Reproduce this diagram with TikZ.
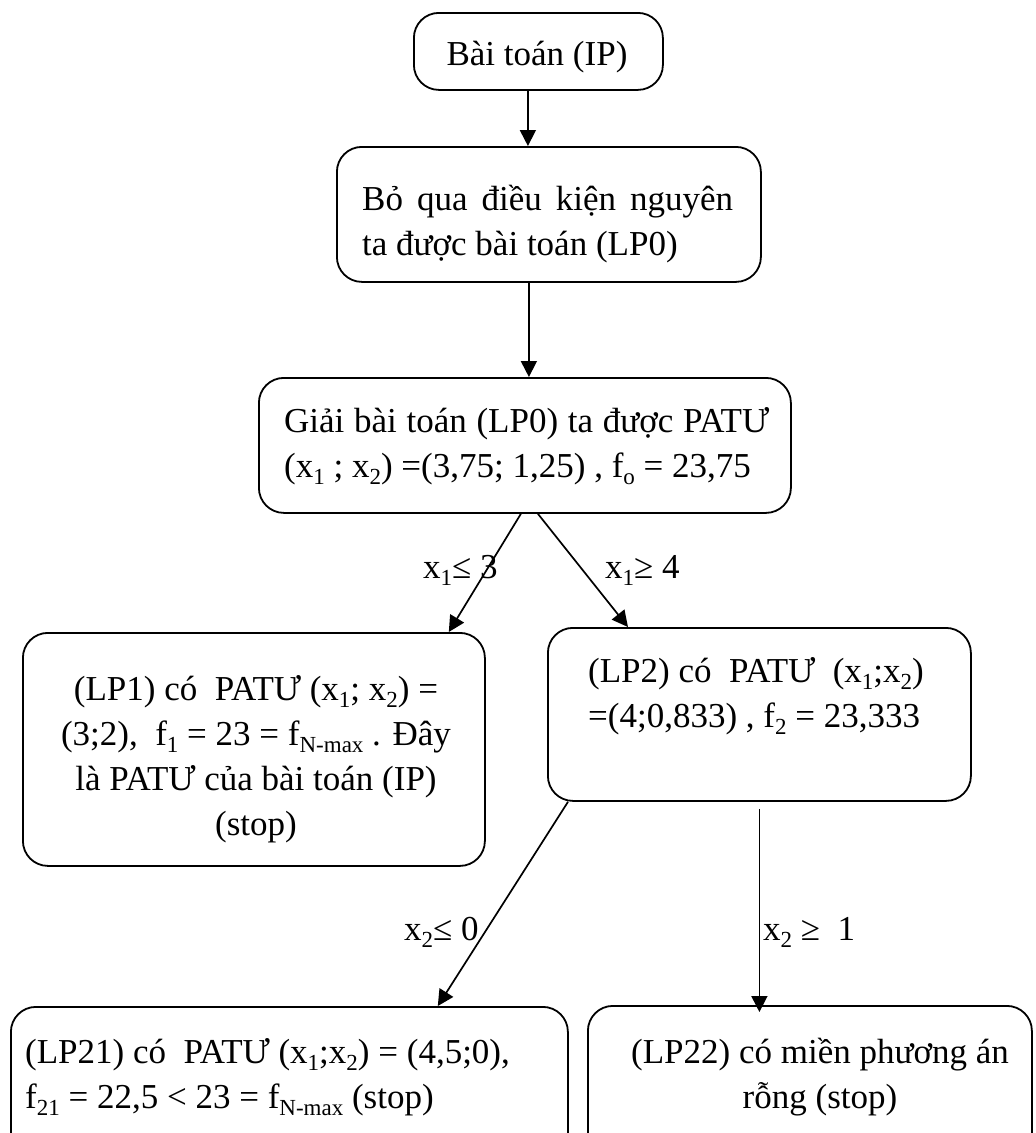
\documentclass[tikz,border=0pt]{standalone}
\usepackage{fontspec}
\setmainfont{Liberation Serif}
\usetikzlibrary{arrows.meta}
\newcommand{\sbs}[1]{\raisebox{-7pt}{\fontsize{23}{23}\selectfont #1}}
\begin{document}
\begin{tikzpicture}[x=1pt,y=-1pt,
  font=\fontsize{35}{45}\selectfont,
  box/.style={draw, line width=1.8pt, rounded corners=25pt, inner sep=0pt, anchor=north west},
  txt/.style={inner sep=0pt},
  lbl/.style={inner sep=0pt, anchor=base west},
  arr/.style={line width=1.7pt, -{Triangle[length=16pt,width=16pt]}},
  ln/.style={line width=1.7pt}]
\useasboundingbox (0,0) rectangle (1036,1133);
\clip (0,0) rectangle (1036,1133);
% boxes
\node[box, minimum width=249pt, minimum height=77pt]  (A)    at (413,12)  {};
\node[box, minimum width=424pt, minimum height=135pt] (B)    at (336,146) {};
\node[box, minimum width=532pt, minimum height=135pt] (C)    at (258,377) {};
\node[box, minimum width=462pt, minimum height=233pt] (LP1)  at (22,632)  {};
\node[box, minimum width=423pt, minimum height=173pt] (LP2)  at (547,627) {};
\node[box, minimum width=557pt, minimum height=160pt] (LP21) at (10,1006) {};
\node[box, minimum width=444pt, minimum height=160pt] (LP22) at (587,1005) {};
% texts
\node[txt, anchor=base] (tA) at (537,65) {Bài toán (IP)};
\node[txt, anchor=base west] (tB) at (362,210) {\begin{tabular}[t]{@{}l@{}}\makebox[371pt][s]{Bỏ qua điều kiện nguyên}\\ ta được bài toán (LP0)\end{tabular}};
\node[txt, anchor=base west] (tC) at (284,432) {\begin{tabular}[t]{@{}l@{}}\makebox[485pt][s]{Giải bài toán (LP0) ta được PATƯ}\\ (x\sbs{1} ; x\sbs{2}) =(3,75; 1,25) , f\sbs{o} = 23,75\end{tabular}};
\node[txt, anchor=base] (tLP1) at (256,700) {\begin{tabular}[t]{@{}c@{}}(LP1) có \ PATƯ (x\sbs{1}; x\sbs{2}) =\\ (3;2), \ f\sbs{1} = 23 = f\sbs{N-max} . Đây\\ là PATƯ của bài toán (IP)\\ (stop)\end{tabular}};
\node[txt, anchor=base west] (tLP2) at (588,682) {\begin{tabular}[t]{@{}l@{}}(LP2) có \ PATƯ \ (x\sbs{1};x\sbs{2})\\ =(4;0,833) , f\sbs{2} = 23,333\end{tabular}};
\node[txt, anchor=base west] (tLP21) at (25,1063) {\begin{tabular}[t]{@{}l@{}}(LP21) có \ PATƯ (x\sbs{1};x\sbs{2}) = (4,5;0),\\ f\sbs{21} = 22,5 < 23 = f\sbs{N-max} (stop)\end{tabular}};
\node[txt, anchor=base] (tLP22) at (820,1063) {\begin{tabular}[t]{@{}c@{}}(LP22) có miền phương án\\ rỗng (stop)\end{tabular}};
% connectors
\draw[arr] ([xshift=-10.5pt]A.south) -- ([xshift=-10.5pt]A.south |- B.north);
\draw[arr] ([xshift=-20pt]B.south) -- ([xshift=-20pt]B.south |- C.north);
\draw[arr] ([xshift=-4pt]C.south) -- ([xshift=-37pt]LP1.north east);
\draw[arr] ([xshift=13pt]C.south) -- ([xshift=81pt]LP2.north west);
\draw[arr] ([xshift=21pt]LP2.south west) -- ([xshift=-131pt]LP21.north east);
\draw[arr] ([yshift=-7pt]LP2.south) -- ([yshift=-7pt]LP2.south |- LP22.north);
% labels
\node[lbl] (l1) at (423,578) {x\sbs{1}≤ 3};
\node[lbl] (l2) at (605,578) {x\sbs{1}≥ 4};
\node[lbl] (l3) at (404,940) {x\sbs{2}≤ 0};
\node[lbl] (l4) at (763,940) {x\sbs{2} ≥ \ 1};
\end{tikzpicture}
\end{document}
